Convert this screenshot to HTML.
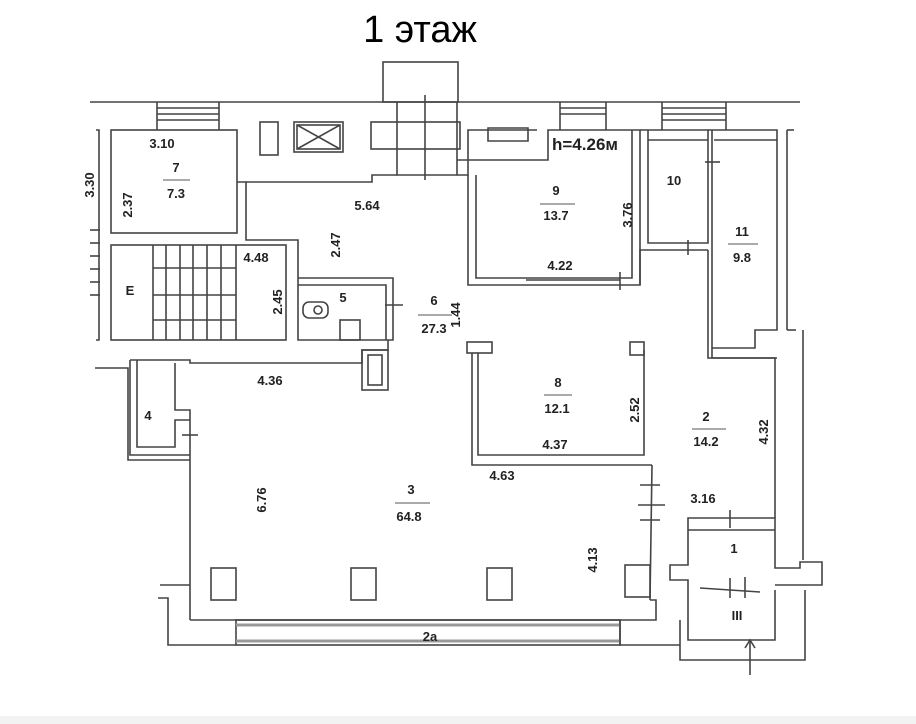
<!DOCTYPE html>
<html><head><meta charset="utf-8"><style>
html,body{margin:0;padding:0;background:#fff;}
svg{display:block;}
text{font-family:"Liberation Sans",sans-serif;fill:#222;}
</style></head><body>
<svg width="916" height="724" viewBox="0 0 916 724" xmlns="http://www.w3.org/2000/svg">
<rect width="916" height="724" fill="#fff"/>
<rect x="0" y="716" width="916" height="8" fill="#f2f2f2"/>
<text x="420" y="42" font-size="38" text-anchor="middle" style="fill:#000">1 этаж</text>
<g stroke="#444" stroke-width="1.6" fill="none">
<line x1="90" y1="102" x2="800" y2="102"/>
<rect x="383" y="62" width="75" height="40"/>
<polyline points="157,102 157,130"/><polyline points="219,102 219,130"/>
<line x1="157" y1="108" x2="219" y2="108"/><line x1="157" y1="114" x2="219" y2="114"/><line x1="157" y1="120" x2="219" y2="120"/>
<polyline points="560,102 560,130"/><polyline points="606,102 606,130"/>
<line x1="560" y1="108" x2="606" y2="108"/><line x1="560" y1="114" x2="606" y2="114"/>
<polyline points="662,102 662,130"/><polyline points="726,102 726,130"/>
<line x1="662" y1="108" x2="726" y2="108"/><line x1="662" y1="114" x2="726" y2="114"/><line x1="662" y1="120" x2="726" y2="120"/>
<polyline points="96,130 99,130 99,340 96,340"/>
<line x1="90" y1="230" x2="100" y2="230"/><line x1="90" y1="243" x2="100" y2="243"/><line x1="90" y1="256" x2="100" y2="256"/><line x1="90" y1="269" x2="100" y2="269"/><line x1="90" y1="282" x2="100" y2="282"/><line x1="90" y1="295" x2="100" y2="295"/>
<rect x="111" y="130" width="126" height="103"/>
<polyline points="237,182 246,182 246,233"/>
<rect x="260" y="122" width="18" height="33"/>
<rect x="294" y="122" width="49" height="30"/><rect x="297" y="125" width="43" height="24"/>
<line x1="297" y1="125" x2="340" y2="149"/><line x1="340" y1="125" x2="297" y2="149"/>
<rect x="371" y="122" width="89" height="27"/>
<polyline points="397,102 397,175 457,175 457,102"/>
<line x1="425" y1="95" x2="425" y2="180"/>
<polyline points="246,182 372,182 372,175 397,175"/>
<polyline points="457,175 468,175 468,130 537,130"/>
<path d="M488,128 h40 v13 h-40 z"/>
<polyline points="468,175 468,285 640,285 640,130 548,130 548,160 457,160"/>
<polyline points="476,175 476,278 632,278 632,130"/>
<line x1="526" y1="280" x2="620" y2="280"/>
<line x1="620" y1="272" x2="620" y2="290"/>
<polyline points="640,130 708,130 708,243 648,243 648,130"/>
<line x1="648" y1="140" x2="708" y2="140"/>
<polyline points="640,285 640,250 708,250"/>
<line x1="688" y1="240" x2="688" y2="255"/>
<line x1="705" y1="162" x2="720" y2="162"/>
<polyline points="708,130 777,130 777,330 755,330 755,348 712,348 712,130"/>
<line x1="714" y1="140" x2="777" y2="140"/>
<polyline points="708,250 708,358 777,358"/>
<line x1="787" y1="130" x2="787" y2="330"/><line x1="787" y1="130" x2="794" y2="130"/><line x1="787" y1="330" x2="796" y2="330"/>
<line x1="803" y1="330" x2="803" y2="560"/>
<rect x="111" y="245" width="175" height="95"/>
<line x1="153" y1="245" x2="153" y2="340"/>
<line x1="153" y1="295" x2="236" y2="295"/><line x1="153" y1="268" x2="236" y2="268"/><line x1="153" y1="320" x2="236" y2="320"/>
<line x1="166" y1="245" x2="166" y2="340"/><line x1="180" y1="245" x2="180" y2="340"/><line x1="193" y1="245" x2="193" y2="340"/><line x1="207" y1="245" x2="207" y2="340"/><line x1="221" y1="245" x2="221" y2="340"/><line x1="236" y1="245" x2="236" y2="340"/>
<polyline points="246,233 246,240 298,240 298,278"/>
<polyline points="298,278 393,278 393,340 298,340 298,278"/>
<polyline points="298,285 386,285 386,340"/>
<rect x="303" y="302" width="25" height="16" rx="6"/>
<circle cx="318" cy="310" r="4"/>
<rect x="340" y="320" width="20" height="20"/>
<line x1="385" y1="305" x2="403" y2="305"/>
<polyline points="130,360 190,360 190,363 362,363 362,350 388,350 388,340"/>
<rect x="362" y="350" width="26" height="40"/><rect x="368" y="355" width="14" height="30"/>
<polyline points="130,360 130,455 190,455"/>
<polyline points="137,360 137,447 175,447 175,420 190,420"/>
<polyline points="175,363 175,410 190,410 190,620"/>
<line x1="182" y1="435" x2="198" y2="435"/>
<polyline points="95,368 128,368 128,460 190,460"/>
<line x1="160" y1="585" x2="190" y2="585"/>
<polyline points="472,353 472,465 652,465"/>
<polyline points="478,353 478,455 644,455 644,350"/>
<rect x="467" y="342" width="25" height="11"/>
<rect x="630" y="342" width="14" height="13"/>
<polyline points="652,465 650,600"/>
<line x1="638" y1="505" x2="665" y2="505"/><line x1="640" y1="485" x2="660" y2="485"/><line x1="640" y1="520" x2="660" y2="520"/>
<polyline points="712,348 712,358 775,358 775,518"/>
<polyline points="688,530 688,518 775,518 775,568 800,568 800,562 822,562 822,585 775,585"/>
<polyline points="688,530 775,530"/>
<polyline points="688,530 688,565 670,565 670,580 688,580 688,640 775,640 775,590"/>
<line x1="700" y1="588" x2="760" y2="592"/>
<line x1="745" y1="577" x2="745" y2="598"/><line x1="730" y1="578" x2="730" y2="598"/>
<line x1="730" y1="510" x2="730" y2="528"/>
<polyline points="680,620 680,660 805,660 805,590"/>
<line x1="750" y1="640" x2="750" y2="675"/>
<polyline points="745,648 750,640 755,648"/>
<rect x="211" y="568" width="25" height="32"/>
<rect x="351" y="568" width="25" height="32"/>
<rect x="487" y="568" width="25" height="32"/>
<rect x="625" y="565" width="25" height="32"/>
<polyline points="190,620 656,620 656,600 650,600"/>
<polyline points="158,598 168,598 168,645 236,645"/>
<rect x="236" y="620" width="384" height="25"/>
<line x1="236" y1="625" x2="620" y2="625" stroke="#999" stroke-width="3"/>
<line x1="236" y1="641" x2="620" y2="641" stroke="#999" stroke-width="3"/>
<polyline points="620,620 620,645 680,645"/>
</g>
<g font-size="13" font-weight="600">
<text x="162" y="148" text-anchor="middle">3.10</text>
<text x="176" y="172" text-anchor="middle">7</text>
<line x1="163" y1="180" x2="190" y2="180" stroke="#555"/>
<text x="176" y="198" text-anchor="middle">7.3</text>
<text x="132" y="205" text-anchor="middle" transform="rotate(-90 132 205)">2.37</text>
<text x="94" y="185" text-anchor="middle" transform="rotate(-90 94 185)">3.30</text>
<text x="367" y="210" text-anchor="middle">5.64</text>
<text x="340" y="245" text-anchor="middle" transform="rotate(-90 340 245)">2.47</text>
<text x="256" y="262" text-anchor="middle">4.48</text>
<text x="282" y="302" text-anchor="middle" transform="rotate(-90 282 302)">2.45</text>
<text x="130" y="295" text-anchor="middle">E</text>
<text x="343" y="302" text-anchor="middle" font-weight="bold">5</text>
<text x="434" y="305" text-anchor="middle">6</text>
<line x1="418" y1="315" x2="452" y2="315" stroke="#555"/>
<text x="434" y="333" text-anchor="middle">27.3</text>
<text x="460" y="315" text-anchor="middle" transform="rotate(-90 460 315)">1.44</text>
<text x="552" y="150" font-size="17">h=4.26м</text>
<text x="556" y="195" text-anchor="middle">9</text>
<line x1="540" y1="204" x2="575" y2="204" stroke="#555"/>
<text x="556" y="220" text-anchor="middle">13.7</text>
<text x="632" y="215" text-anchor="middle" transform="rotate(-90 632 215)">3.76</text>
<text x="560" y="270" text-anchor="middle">4.22</text>
<text x="674" y="185" text-anchor="middle">10</text>
<text x="742" y="236" text-anchor="middle">11</text>
<line x1="728" y1="244" x2="758" y2="244" stroke="#555"/>
<text x="742" y="262" text-anchor="middle">9.8</text>
<text x="270" y="385" text-anchor="middle">4.36</text>
<text x="148" y="420" text-anchor="middle" font-weight="bold">4</text>
<text x="558" y="387" text-anchor="middle">8</text>
<line x1="544" y1="395" x2="572" y2="395" stroke="#555"/>
<text x="557" y="413" text-anchor="middle">12.1</text>
<text x="639" y="410" text-anchor="middle" transform="rotate(-90 639 410)">2.52</text>
<text x="555" y="449" text-anchor="middle">4.37</text>
<text x="706" y="421" text-anchor="middle">2</text>
<line x1="692" y1="429" x2="726" y2="429" stroke="#555"/>
<text x="706" y="446" text-anchor="middle">14.2</text>
<text x="768" y="432" text-anchor="middle" transform="rotate(-90 768 432)">4.32</text>
<text x="411" y="494" text-anchor="middle">3</text>
<line x1="395" y1="503" x2="430" y2="503" stroke="#555"/>
<text x="409" y="521" text-anchor="middle">64.8</text>
<text x="502" y="480" text-anchor="middle">4.63</text>
<text x="266" y="500" text-anchor="middle" transform="rotate(-90 266 500)">6.76</text>
<text x="703" y="503" text-anchor="middle">3.16</text>
<text x="597" y="560" text-anchor="middle" transform="rotate(-90 597 560)">4.13</text>
<text x="734" y="553" text-anchor="middle">1</text>
<text x="737" y="620" text-anchor="middle">III</text>
<text x="430" y="641" text-anchor="middle" font-weight="bold">2a</text>
</g>
</svg>
</body></html>
